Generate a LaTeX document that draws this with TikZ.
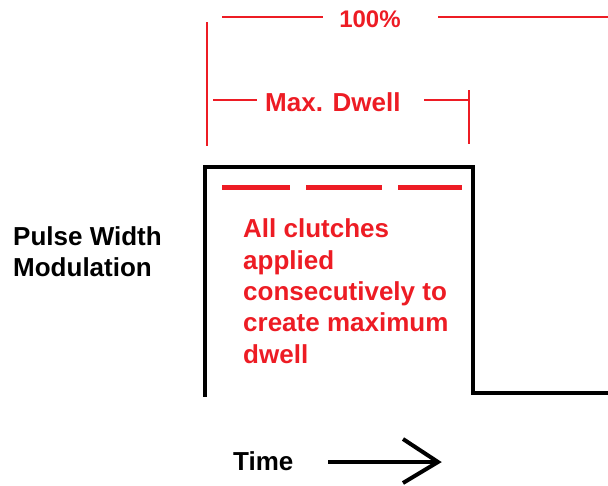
\documentclass[tikz,border=0pt]{standalone}
\usepackage{fontspec}
\setmainfont{Liberation Sans}
\definecolor{pred}{RGB}{237,28,36}
\begin{document}
\begin{tikzpicture}[x=1pt,y=-1pt,
  pulse/.style={line width=4pt,black,line cap=rect},
  dimline/.style={line width=2pt,pred},
  dashseg/.style={line width=5pt,pred},
  redtxt/.style={text=pred,font=\fontsize{26}{31.3}\selectfont\bfseries,inner sep=0pt,align=left},
  blktxt/.style={text=black,font=\fontsize{26}{31}\selectfont\bfseries,inner sep=0pt,align=left}]
\useasboundingbox (0,0) rectangle (608,485);
% pulse waveform
\coordinate (p0) at (205,395);
\coordinate (p1) at (205,167);
\coordinate (p2) at (473,167);
\coordinate (p3) at (473,393);
\coordinate (p4) at (610,393);
\draw[pulse] (p0) -- (p1) -- (p2) -- (p3) -- (p4);
% dashed red line
\coordinate (d1a) at (222,187); \coordinate (d1b) at (290,187);
\coordinate (d2a) at (306,187); \coordinate (d2b) at (382,187);
\coordinate (d3a) at (398,187); \coordinate (d3b) at (462,187);
\draw[dashseg] (d1a) -- (d1b);
\draw[dashseg] (d2a) -- (d2b);
\draw[dashseg] (d3a) -- (d3b);
% 100% dimension
\node[redtxt,anchor=base,font=\fontsize{24}{29}\selectfont\bfseries] (hundred) at (370,27) {100\%};
\coordinate (h1) at (222,17); \coordinate (h2) at (323,17);
\coordinate (h3) at (438,17); \coordinate (h4) at (608,17);
\draw[dimline] (h1) -- (h2);
\draw[dimline] (h3) -- (h4);
\coordinate (v1a) at (207,22); \coordinate (v1b) at (207,146);
\draw[dimline] (v1a) -- (v1b);
% Max. Dwell dimension
\node[redtxt,anchor=base west] (maxd) at (265,111) {Max. Dwell};
\coordinate (m1) at (213,100); \coordinate (m2) at (257,100);
\coordinate (m3) at (424,100); \coordinate (m4) at (469,100);
\draw[dimline] (m1) -- (m2);
\draw[dimline] (m3) -- (m4);
\coordinate (v2a) at (469,90); \coordinate (v2b) at (469,144);
\draw[dimline] (v2a) -- (v2b);
% texts
\node[redtxt,anchor=base west] (desc) at (243,363) {All clutches\\applied\\consecutively to\\create maximum\\dwell};
\node[blktxt,anchor=base west] (pwm) at (13,276) {Pulse Width\\Modulation};
\node[blktxt,anchor=base west] (time) at (233,470) {Time};
% time arrow
\coordinate (a0) at (328,462);
\coordinate (tip) at (438,462);
\coordinate (b1) at (403,439);
\coordinate (b2) at (403,483);
\draw[line width=4pt] (a0) -- (tip);
\draw[line width=4pt,line join=miter] (b1) -- (tip) -- (b2);
\end{tikzpicture}
\end{document}
